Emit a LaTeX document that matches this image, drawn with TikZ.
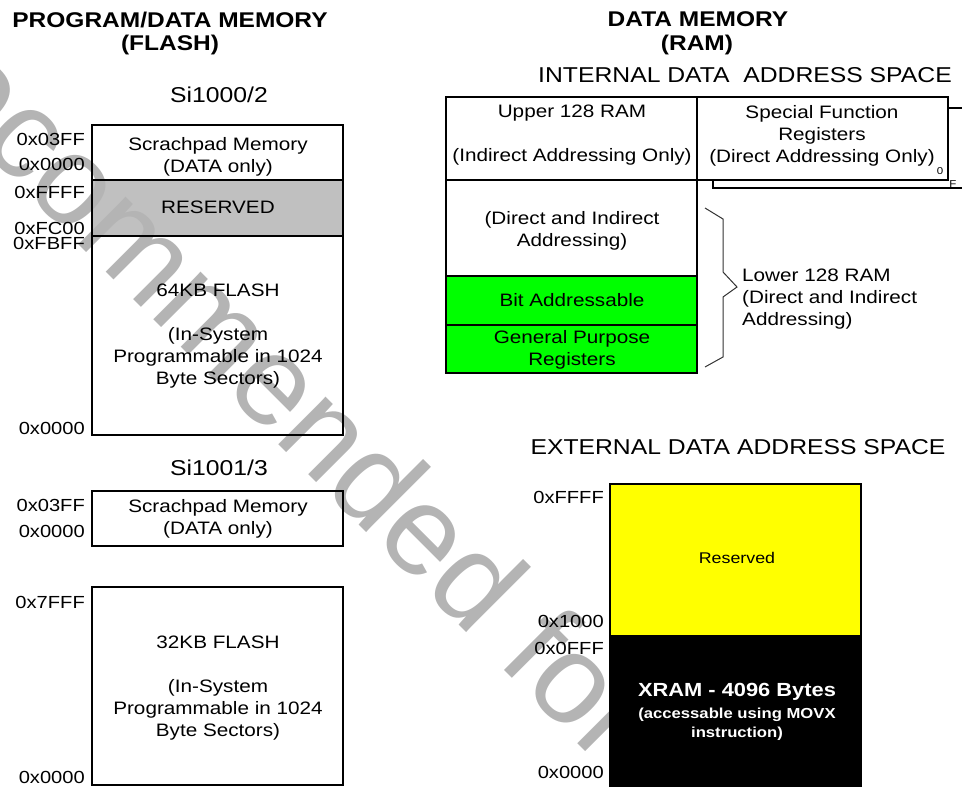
\documentclass[tikz,border=0pt]{standalone}
\usepackage{fontspec}
\setmainfont[FakeStretch=1.15]{Liberation Sans}
\newfontfamily\wmfont{Liberation Sans}
\definecolor{wmgray}{RGB}{180,180,180}
\definecolor{resgray}{RGB}{192,192,192}
\definecolor{grn}{RGB}{0,255,0}
\definecolor{ylw}{RGB}{255,255,0}
\begin{document}
\begin{tikzpicture}[x=1pt,y=-1pt,
  box/.style={draw=black,line width=2pt},
  lbl/.style={font=\fontsize{18}{22}\selectfont,align=center,inner sep=0pt},
  addr/.style={font=\fontsize{17.5}{22}\selectfont,anchor=east,inner sep=0pt},
  hdr/.style={font=\fontsize{21.5}{24}\selectfont,inner sep=0pt},
  ttl/.style={font=\bfseries\fontsize{21.3}{24}\selectfont,inner sep=0pt},
  chip/.style={font=\fontsize{21.5}{24}\selectfont,inner sep=0pt},
  tiny/.style={font=\fontsize{10}{10}\selectfont,inner sep=0pt},
  wbold/.style={text=white,font=\bfseries\fontsize{14.5}{18}\selectfont,inner sep=0pt},
]
\useasboundingbox (0,0) rectangle (962,787);
\begin{scope}
\clip (0,0) rectangle (962,787);
% reserved fill (under watermark)
\fill[resgray] (92,180) rectangle (343,236);
% watermark
\node[text=wmgray, font=\wmfont\fontsize{127}{127}\selectfont, rotate=-45, anchor=base west, inner sep=0pt] (wm) at (-137,29) {Recommended for};

% ---------- left titles ----------
\node[ttl] (t1) at (170,20) {PROGRAM/DATA MEMORY};
\node[ttl] (t2) at (170,45) {(FLASH)};
\node[chip] (c1) at (219,95) {Si1000/2};
\node[chip] (c2) at (219,468) {Si1001/3};

% Si1000/2 map
\draw[box] (92,125) rectangle (343,435);
\draw[box] (92,180) -- (343,180);
\draw[box] (92,236) -- (343,236);
\node[lbl] (s1) at (218,157) {Scrachpad Memory\\(DATA only)};
\node[lbl] (r1) at (218,207) {RESERVED};
\node[lbl] (f1) at (218,290) {64KB FLASH};
\node[lbl] (f1b) at (218,358) {(In-System\\Programmable in 1024\\Byte Sectors)};
\node[addr] (a1) at (85,139) {0x03FF};
\node[addr] (a2) at (85,164) {0x0000};
\node[addr] (a3) at (85,192) {0xFFFF};
\node[addr] (a4) at (85,228) {0xFC00};
\node[addr] (a5) at (85,243) {0xFBFF};
\node[addr] (a6) at (85,428) {0x0000};

% Si1001/3 map
\draw[box] (92,491) rectangle (343,546);
\draw[box] (92,587) rectangle (343,785);
\node[lbl] (s2) at (218,519) {Scrachpad Memory\\(DATA only)};
\node[lbl] (f2) at (218,642) {32KB FLASH};
\node[lbl] (f2b) at (218,710) {(In-System\\Programmable in 1024\\Byte Sectors)};
\node[addr] (b1) at (85,505) {0x03FF};
\node[addr] (b2) at (85,531) {0x0000};
\node[addr] (b3) at (85,602) {0x7FFF};
\node[addr] (b4) at (85,777) {0x0000};

% ---------- right titles ----------
\node[ttl] (t3) at (698,19) {DATA MEMORY};
\node[ttl] (t4) at (697,45) {(RAM)};
\node[hdr] (h1) at (745,75) {INTERNAL DATA\ \ ADDRESS SPACE};

% internal RAM
\draw[line width=2pt, fill=white] (713,108) rectangle (990,188);
\fill[grn] (446,276) rectangle (697,373);
\draw[box, fill=white] (697,97) rectangle (948,180);
\draw[box] (446,97) rectangle (697,373);
\draw[box] (446,180) -- (697,180);
\draw[box] (446,276) -- (697,276);
\draw[box] (446,325) -- (697,325);
\node[lbl] (u1) at (572,113) {Upper 128 RAM};
\node[lbl] (u2) at (572,157) {(Indirect Addressing Only)};
\node[lbl] (sf) at (822,136) {Special Function\\Registers\\(Direct Addressing Only)};
\node[tiny] (z0) at (940,171) {0};
\node[tiny] (zf) at (953,184) {F};
\node[lbl] (d1) at (572,231) {(Direct and Indirect\\Addressing)};
\node[lbl] (ba) at (572,300) {Bit Addressable};
\node[lbl] (gp) at (572,350) {General Purpose\\Registers};
\coordinate (br1) at (705,208);
\coordinate (br2) at (705,367);
\draw[line width=1pt, black!80] (br1) -- (723,219) -- (723,272) -- (737,287) -- (723,297) -- (723,357) -- (br2);
\node[lbl, align=left, anchor=west] (lo) at (742,299) {Lower 128 RAM\\(Direct and Indirect\\Addressing)};

% external RAM
\node[hdr] (h2) at (738,447) {EXTERNAL DATA ADDRESS SPACE};
\fill[ylw] (610,484) rectangle (861,635);
\fill[black] (610,635) rectangle (861,800);
\draw[box] (610,484) rectangle (861,800);
\node[inner sep=0pt, font=\fontsize{15.5}{18}\selectfont] (rs) at (737,558) {Reserved};
\node[text=white, font=\bfseries\fontsize{19}{22}\selectfont, inner sep=0pt] (xr) at (737,692) {XRAM - 4096 Bytes};
\node[wbold] (xa) at (737,715) {(accessable using MOVX};
\node[wbold] (xb) at (737,734) {instruction)};
\node[addr] (e1) at (604,497) {0xFFFF};
\node[addr] (e2) at (604,621) {0x1000};
\node[addr] (e3) at (604,648) {0x0FFF};
\node[addr] (e4) at (604,772) {0x0000};
\end{scope}
\end{tikzpicture}
\end{document}
